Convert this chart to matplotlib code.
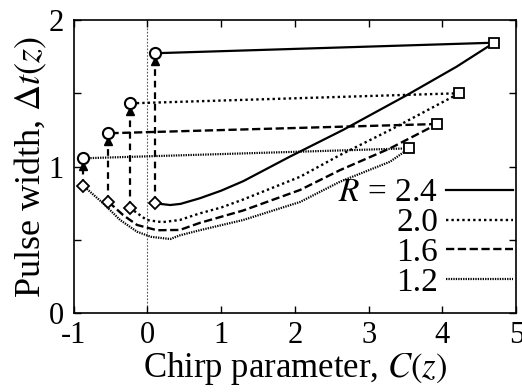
import matplotlib
matplotlib.use("Agg")
import matplotlib.pyplot as plt

plt.rcParams['font.family'] = ['Liberation Serif', 'DejaVu Serif']
plt.rcParams['mathtext.fontset'] = 'stix'
plt.rcParams['axes.unicode_minus'] = False

# Curves: chirp parameter C and pulse width for each R
c24 = [0.10, 0.31, 0.45, 0.71, 1.00, 1.30, 1.93, 2.65, 3.52, 4.19, 4.70]
y24 = [0.749, 0.737, 0.745, 0.783, 0.835, 0.900, 1.067, 1.249, 1.488, 1.681, 1.845]

c20 = [-0.24, -0.01, 0.20, 0.44, 0.71, 1.00, 1.30, 2.07, 2.61, 3.29, 3.97, 4.23]
y20 = [0.719, 0.635, 0.620, 0.635, 0.680, 0.720, 0.775, 0.930, 1.078, 1.249, 1.431, 1.500]

c16 = [-0.53, -0.33, -0.14, 0.13, 0.44, 0.71, 1.30, 2.07, 2.61, 3.29, 3.93]
y16 = [0.760, 0.669, 0.601, 0.565, 0.567, 0.615, 0.700, 0.840, 0.975, 1.124, 1.290]

c12 = [-0.87, -0.60, -0.37, -0.14, 0.05, 0.31, 0.44, 0.71, 1.30, 2.07, 2.61, 3.29, 3.55]
y12 = [0.869, 0.749, 0.635, 0.555, 0.520, 0.505, 0.530, 0.565, 0.635, 0.758, 0.896, 1.033, 1.124]

# Heights of the circles (after the jump)
y_jump = [1.773, 1.431, 1.227, 1.056]

labels = ['$R$ = 2.4', '2.0', '1.6', '1.2']
x_ticks = [-1, 0, 1, 2, 3, 4, 5]
y_ticks = [0, 1, 2]
y_minor = [0.5, 1.5]

curves = [(c24, y24), (c20, y20), (c16, y16), (c12, y12)]
styles = [dict(ls='-', lw=1.6),
          dict(ls=(0, (1.0, 1.3)), lw=1.7),
          dict(ls=(0, (3.5, 1.5)), lw=1.7),
          dict(ls=(0, (0.6, 0.5)), lw=1.6)]

fig = plt.figure(figsize=(5.22, 3.92), dpi=100)
ax = fig.add_axes([0.141, 0.2015, 0.848, 0.7475])

ax.axvline(0, color='#555555', lw=0.8, ls=(0, (1.5, 1.5)), zorder=1)

handles = []
for (cx, cy), st, lab, yj in zip(curves, styles, labels, y_jump):
    h, = ax.plot(cx, cy, color='black', label=lab, zorder=3, **st)
    handles.append(h)
    # straight return line from end square back to the circle
    ax.plot([cx[-1], cx[0]], [cy[-1], yj], color='black', zorder=3, **st)
    # vertical dashed arrow from diamond up to circle
    ax.plot([cx[0], cx[0]], [cy[0], yj - 0.03], color='black', lw=1.6,
            ls=(0, (3, 2.2)), zorder=3)
    ax.plot([cx[0]], [yj - 0.05], marker='^', color='black', ms=6, zorder=4)
    # markers
    ax.plot([cx[0]], [cy[0]], marker='D', ms=6, mfc='white', mec='black', mew=1.3, zorder=5)
    ax.plot([cx[-1]], [cy[-1]], marker='s', ms=7, mfc='white', mec='black', mew=1.3, zorder=5)
    ax.plot([cx[0]], [yj], marker='o', ms=8, mfc='white', mec='black', mew=1.5, zorder=5)

ax.set_xlim(-1, 5)
ax.set_ylim(0, 2)
ax.set_xticks(x_ticks)
ax.set_xticklabels([str(t) for t in x_ticks])
ax.set_yticks(y_ticks)
ax.set_yticks(y_minor, minor=True)
ax.tick_params(which='both', direction='in', top=True, right=True, length=5,
               width=1, labelsize=22)
ax.tick_params(axis='x', pad=6)
ax.tick_params(axis='y', pad=7)
for s in ax.spines.values():
    s.set_linewidth(1.2)

ax.set_xlabel('Chirp parameter, $C(z)$', fontsize=25, labelpad=0)
ax.set_ylabel('Pulse width, $\\Delta t(z)$', fontsize=26, labelpad=0)

leg = ax.legend(handles=handles, loc='lower right', frameon=False, markerfirst=False,
                fontsize=24, handlelength=2.0, handletextpad=0.25, labelspacing=-0.02,
                borderaxespad=0.0, borderpad=0.1, bbox_to_anchor=(1.0, 0.04))

fig.savefig('out.png', dpi=100)
